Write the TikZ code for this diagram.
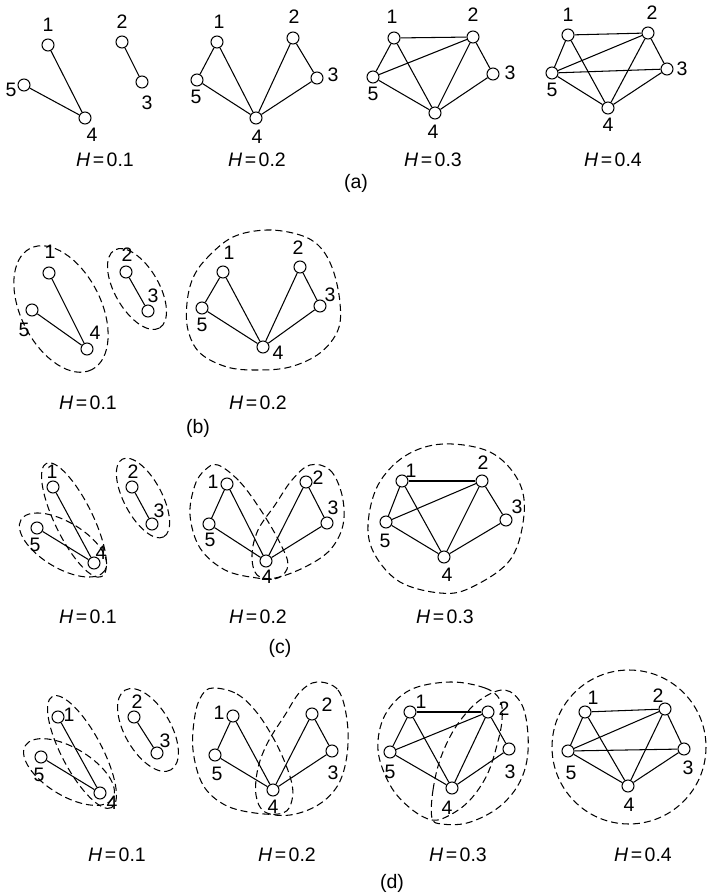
\documentclass[tikz,border=0pt]{standalone}
\usepackage{fontspec}
\setmainfont{Liberation Sans}
\begin{document}
\begin{tikzpicture}[x=1pt,y=-1pt,
  vtx/.style={circle,draw,fill=white,minimum size=12pt,inner sep=0pt,line width=1.05pt},
  edge/.style={line width=1.05pt},
  lbl/.style={inner sep=0pt,font=\fontsize{19.5}{22}\selectfont},
  grp/.style={dash pattern=on 7pt off 4pt,line width=1.05pt}]
\useasboundingbox (0,0) rectangle (708,896);

% ---------- dashed groups ----------
% (b)
\draw[grp, rotate around={-63:(61,309)}] (61,309) ellipse [x radius=68, y radius=40];
\draw[grp, rotate around={-60:(137,289)}] (137,289) ellipse [x radius=45, y radius=22];
\draw[grp] plot[smooth cycle, tension=0.6] coordinates {(193,278) (207,258) (233,237) (267,230) (300,235) (320,247) (333,270) (340,303) (338,330) (320,353) (290,367) (257,370) (227,367) (200,353) (188,330) (187,303)};
% (c)
\draw[grp, rotate around={-64:(74,520)}] (74,520) ellipse [x radius=63, y radius=19];
\draw[grp, rotate around={-31:(63,545)}] (63,545) ellipse [x radius=49, y radius=23];
\draw[grp, rotate around={-62:(143,498)}] (143,498) ellipse [x radius=44, y radius=19];
\draw[grp] plot[smooth cycle, tension=0.6] coordinates {(218,465) (240,482) (262,512) (280,543) (288,565) (278,578) (257,578) (225,570) (200,548) (190,515) (195,485) (205,470)};
\draw[grp] plot[smooth cycle, tension=0.6] coordinates {(310,465) (330,470) (342,495) (343,525) (330,550) (305,567) (275,578) (257,575) (252,555) (258,530) (275,505) (292,480)};
\draw[grp] plot[smooth cycle, tension=0.6] coordinates {(443,444) (490,452) (518,480) (524,515) (510,560) (470,588) (440,593) (400,582) (375,555) (368,525) (378,485) (405,456)};
% (d)
\draw[grp, rotate around={-62:(82,752)}] (82,752) ellipse [x radius=63, y radius=20];
\draw[grp, rotate around={-31:(69,772)}] (69,772) ellipse [x radius=51, y radius=24];
\draw[grp, rotate around={-60:(148,730)}] (148,730) ellipse [x radius=46, y radius=23];
\draw[grp] plot[smooth cycle, tension=0.6] coordinates {(213,688) (237,694) (258,714) (278,747) (291,780) (292,800) (283,813) (255,813) (225,805) (203,785) (193,750) (195,715) (202,695)};
\draw[grp] plot[smooth cycle, tension=0.6] coordinates {(317,682) (338,690) (347,720) (347,755) (338,785) (318,805) (290,815) (265,812) (256,795) (258,768) (268,742) (285,715) (300,692)};
\draw[grp] plot[smooth cycle, tension=0.6] coordinates {(450,682) (485,688) (500,700) (502,720) (497,745) (487,775) (470,800) (450,815) (432,820) (410,808) (390,785) (378,750) (385,715) (410,690)};
\draw[grp] plot[smooth cycle, tension=0.6] coordinates {(432,818) (433,790) (441,757) (457,725) (480,700) (505,690) (522,705) (528,735) (526,765) (515,790) (495,810) (467,823) (442,824)};
\draw[grp] (629,747) circle [radius=77];

% ---------- vertices ----------
\foreach \n/\x/\y in {
  a1n1/48/45, a1n2/122/42, a1n3/142/82, a1n4/85/118, a1n5/24/85,
  a2n1/217/42, a2n2/293/38, a2n3/317/78, a2n4/256/118, a2n5/197/80,
  a3n1/394/38, a3n2/473/37, a3n3/493/74, a3n4/435/113, a3n5/373/77,
  a4n1/568/35, a4n2/648/33, a4n3/667/69, a4n4/608/108, a4n5/552/73,
  b1n1/49/273, b1n2/126/272, b1n3/148/311, b1n4/87/349, b1n5/32/310,
  b2n1/223/272, b2n2/300/267, b2n3/320/306, b2n4/263/347, b2n5/202/308,
  c1n1/53/487, c1n2/132/487, c1n3/152/524, c1n4/94/563, c1n5/37/528,
  c2n1/227/484, c2n2/306/482, c2n3/327/523, c2n4/266/561, c2n5/209/524,
  c3n1/402/481, c3n2/482/481, c3n3/506/520, c3n4/444/557, c3n5/386/522,
  d1n1/58/717, d1n2/134/717, d1n3/157/753, d1n4/100/793, d1n5/41/757,
  d2n1/233/716, d2n2/312/714, d2n3/332/751, d2n4/273/790, d2n5/215/755,
  d3n1/410/712, d3n2/488/712, d3n3/509/749, d3n4/452/788, d3n5/390/752,
  d4n1/585/712, d4n2/665/709, d4n3/684/749, d4n4/628/786, d4n5/568/751}
  \node[vtx] (\n) at (\x,\y) {};

% ---------- vertex numbers ----------
\foreach \n/\x/\y/\t in {
  a1l1/48/25/1, a1l2/122/22/2, a1l3/147/103/3, a1l4/92/135/4, a1l5/11/90/5,
  a2l1/219/22/1, a2l2/294/17/2, a2l3/333/75/3, a2l4/257/137/4, a2l5/196/97/5,
  a3l1/392/17/1, a3l2/473/15/2, a3l3/510/73/3, a3l4/433/132/4, a3l5/373/94/5,
  a4l1/568/15/1, a4l2/652/13/2, a4l3/682/69/3, a4l4/608/125/4, a4l5/552/90/5,
  b1l1/50/252/1, b1l2/127/255/2, b1l3/153/296/3, b1l4/95/333/4, b1l5/24/330/5,
  b2l1/229/253/1, b2l2/298/248/2, b2l3/330/295/3, b2l4/278/353/4, b2l5/202/325/5,
  c1l1/52/472/1, c1l2/133/472/2, c1l3/159/511/3, c1l4/101/553/4, c1l5/35/545/5,
  c2l1/213/482/1, c2l2/318/478/2, c2l3/333/508/3, c2l4/267/577/4, c2l5/210/540/5,
  c3l1/411/471/1, c3l2/483/463/2, c3l3/517/507/3, c3l4/447/575/4, c3l5/385/541/5,
  d1l1/69/715/1, d1l2/137/702/2, d1l3/165/741/3, d1l4/112/803/4, d1l5/39/775/5,
  d2l1/219/713/1, d2l2/327/705/2, d2l3/333/773/3, d2l4/273/807/4, d2l5/217/774/5,
  d3l1/421/702/1, d3l2/504/709/2, d3l3/510/772/3, d3l4/447/808/4, d3l5/390/772/5,
  d4l1/593/698/1, d4l2/658/696/2, d4l3/688/768/3, d4l4/629/805/4, d4l5/571/773/5}
  \node[lbl] (\n) at (\x,\y) {\t};

% ---------- edges ----------
% H = 0.1
\foreach \g in {a1,b1,c1,d1}
  \foreach \u/\v in {1/4, 5/4, 2/3}
    \draw[edge] (\g n\u) -- (\g n\v);
% H = 0.2
\foreach \g in {a2,b2,c2,d2}
  \foreach \u/\v in {1/5, 1/4, 5/4, 2/4, 2/3, 3/4}
    \draw[edge] (\g n\u) -- (\g n\v);
% H = 0.3
\foreach \g in {a3,c3,d3}
  \foreach \u/\v in {1/2, 1/5, 1/4, 5/2, 5/4, 2/4, 2/3, 3/4}
    \draw[edge] (\g n\u) -- (\g n\v);
% H = 0.4
\foreach \g in {a4,d4}
  \foreach \u/\v in {1/2, 1/5, 1/4, 5/2, 5/3, 5/4, 2/4, 2/3, 3/4}
    \draw[edge] (\g n\u) -- (\g n\v);

% ---------- threshold captions and panel tags ----------
\foreach \n/\x/\y/\h in {
  a1h/105/160/0.1, a2h/257/160/0.2, a3h/433/160/0.3, a4h/613/160/0.4,
  b1h/88/403/0.1, b2h/258/403/0.2,
  c1h/88/617/0.1, c2h/258/617/0.2, c3h/445/617/0.3,
  d1h/117/855/0.1, d2h/287/855/0.2, d3h/458/855/0.3, d4h/643/855/0.4}
  \node[lbl] (\n) at (\x,\y) {\textit{H}\kern2.5pt=\kern2.5pt\h};
\node[lbl] (tagA) at (356,183) {(a)};
\node[lbl] (tagB) at (198,428) {(b)};
\node[lbl] (tagC) at (280,648) {(c)};
\node[lbl] (tagD) at (392,883) {(d)};
\end{tikzpicture}
\end{document}
